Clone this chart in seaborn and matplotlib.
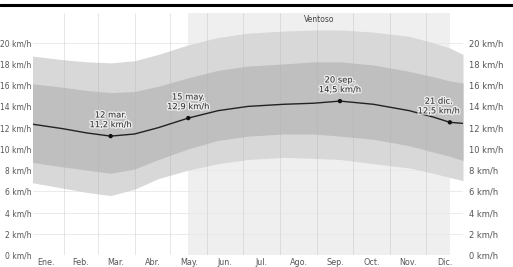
import matplotlib
matplotlib.use("Agg")
import pandas as pd
import matplotlib.pyplot as plt
import matplotlib.patheffects as pe
from matplotlib.lines import Line2D
import seaborn as sns

days = [0, 30, 50, 70, 90, 110, 135, 160, 185, 215, 240, 262, 290, 320, 340, 354, 365]
mean_speed = [12.4, 11.9, 11.5, 11.2, 11.4, 12.0, 12.9, 13.6, 14.0, 14.2, 14.3, 14.5,
              14.2, 13.6, 13.0, 12.5, 12.4]
p90 = [18.8, 18.4, 18.2, 18.1, 18.3, 18.9, 19.8, 20.5, 20.9, 21.1, 21.2, 21.2,
       21.0, 20.6, 20.0, 19.5, 18.9]
p75 = [16.2, 15.8, 15.5, 15.3, 15.4, 15.9, 16.7, 17.4, 17.8, 18.0, 18.2, 18.2,
       17.9, 17.3, 16.8, 16.4, 16.2]
p25 = [8.8, 8.3, 8.0, 7.7, 8.1, 9.0, 10.0, 10.8, 11.2, 11.4, 11.4, 11.2,
       10.9, 10.3, 9.7, 9.3, 8.9]
p10 = [6.9, 6.3, 5.9, 5.6, 6.2, 7.2, 8.0, 8.6, 9.0, 9.2, 9.1, 9.0,
       8.6, 8.2, 7.7, 7.3, 7.0]

month_labels = ["Ene.", "Feb.", "Mar.", "Abr.", "May.", "Jun.",
                "Jul.", "Ago.", "Sep.", "Oct.", "Nov.", "Dic."]
month_starts = [0, 31, 59, 90, 120, 151, 181, 212, 243, 273, 304, 334, 365]

windy_start, windy_end = 135, 354
windy_label = "Ventoso"

note_days = [70, 135, 262, 354]
note_values = [11.2, 12.9, 14.5, 12.5]
note_dates = ["12 mar.", "15 may.", "20 sep.", "21 dic."]

y_ticks = list(range(0, 21, 2))

df = pd.DataFrame({"day": days, "mean": mean_speed})
notes = pd.DataFrame({"day": note_days, "value": note_values})

sns.set_theme(style="white")
plt.rcParams['font.family'] = ['DejaVu Sans']

fig = plt.figure(figsize=(5.13, 2.67), dpi=100)
ax = fig.add_axes([33 / 513, 12 / 267, 430 / 513, 242 / 267])

# windier part of the year
ax.axvspan(windy_start, windy_end, color="#efefef", lw=0, zorder=0)

for v in y_ticks:
    ax.axhline(v, color="#e8e8e8", lw=0.6, zorder=0.5)

ax.fill_between(days, p10, p90, color="#d8d8d8", lw=0, zorder=1)
ax.fill_between(days, p25, p75, color="#bfbfbf", lw=0, zorder=1.1)

for d in month_starts[1:-1]:
    ax.axvline(d, color="#b0b0b0", lw=0.5, alpha=0.45, zorder=2)

sns.lineplot(data=df, x="day", y="mean", color="#222222", lw=1.0, ax=ax, zorder=3)
sns.scatterplot(data=notes, x="day", y="value", color="#111111", s=10,
                edgecolor="none", ax=ax, zorder=4)

halo = [pe.withStroke(linewidth=2, foreground="white", alpha=0.7)]
for d, v, lab in zip(note_days, note_values, note_dates):
    dx = -8 if d > 340 else 0
    txt = f"{lab}\n{str(v).replace('.', ',')} km/h"
    ax.annotate(txt, (d, v), xytext=(dx, 5), textcoords="offset points",
                ha="center", va="bottom", fontsize=6, color="#333333",
                linespacing=1.1, path_effects=halo, zorder=5)

ax.text((windy_start + windy_end) / 2, 22.6, windy_label, ha="center", va="top",
        fontsize=5.5, color="#444444")

ax.set_xlim(5, 365)
ax.set_ylim(0, 22.8)
ax.set_xlabel("")
ax.set_ylabel("")

mids = [(a + b) / 2 for a, b in zip(month_starts[:-1], month_starts[1:])]
ax.set_xticks(mids)
ax.set_xticklabels(month_labels, fontsize=5.8, color="#555555")
ax.set_yticks(y_ticks)
ax.set_yticklabels([f"{v} km/h" for v in y_ticks], fontsize=5.5, color="#555555")
ax.tick_params(axis="x", length=0, pad=2)
ax.tick_params(axis="y", length=0, pad=1)

sec = ax.secondary_yaxis("right")
sec.set_yticks(y_ticks)
sec.set_yticklabels([f"{v} km/h" for v in y_ticks], fontsize=6, color="#555555")
sec.tick_params(length=0, pad=4)
sec.spines["right"].set_visible(False)

for s in ax.spines.values():
    s.set_visible(False)

fig.add_artist(Line2D([0, 1], [0.983, 0.983], transform=fig.transFigure,
                      color="black", lw=2.2))

fig.savefig("out.png", dpi=100)
